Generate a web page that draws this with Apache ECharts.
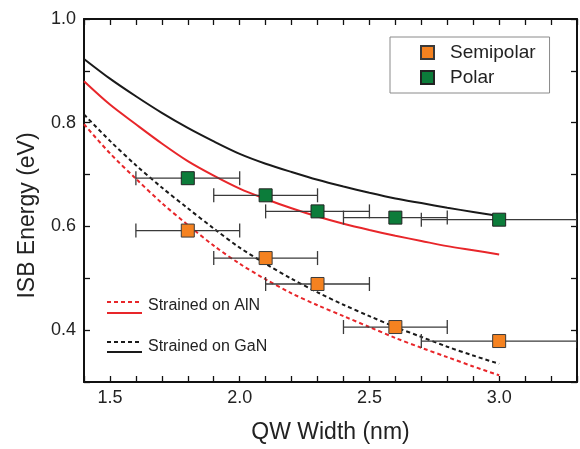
<!DOCTYPE html>
<html><head><meta charset="utf-8">
<script src="https://cdn.jsdelivr.net/npm/echarts@6/dist/echarts.min.js"></script>
<style>html,body{margin:0;padding:0;background:#fff}#c{width:580px;height:449px}</style>
</head><body><div id="c"></div>
<script>
// Measured data
const widths = [1.8, 2.1, 2.3, 2.6, 3.0];
const semipolar = [0.592, 0.539, 0.489, 0.406, 0.379];
const polar = [0.693, 0.660, 0.629, 0.617, 0.613];
const errLow = [1.6, 1.9, 2.1, 2.4, 2.7];
const errHigh = [2.0, 2.3, 2.5, 2.8, 3.3];

// Calculated curves
const curveX = [1.4, 1.5, 1.6, 1.7, 1.8, 1.9, 2.0, 2.1, 2.2, 2.3, 2.4, 2.5, 2.6, 2.7, 2.8, 2.9, 3.0];
const ganSolid = [0.923, 0.885, 0.851, 0.819, 0.790, 0.764, 0.740, 0.721, 0.705, 0.690, 0.677, 0.665, 0.654, 0.645, 0.636, 0.628, 0.620];
const alnSolid = [0.880, 0.835, 0.797, 0.760, 0.726, 0.698, 0.673, 0.653, 0.635, 0.619, 0.605, 0.593, 0.582, 0.572, 0.562, 0.554, 0.546];
const ganDashed = [0.816, 0.765, 0.718, 0.675, 0.635, 0.596, 0.559, 0.528, 0.499, 0.473, 0.449, 0.427, 0.406, 0.387, 0.368, 0.351, 0.335];
const alnDashed = [0.797, 0.741, 0.692, 0.645, 0.603, 0.563, 0.528, 0.498, 0.471, 0.448, 0.427, 0.406, 0.385, 0.366, 0.348, 0.330, 0.313];

const xTickLabels = ['1.5', '2.0', '2.5', '3.0'];
const yTickLabels = ['0.4', '0.6', '0.8', '1.0'];

const FONT = '"Liberation Sans", Arial, sans-serif';
const BLACK = '#1a1a1a', RED = '#e8262a', ORANGE = '#f58220', GREEN = '#0c7c3a';

const pairs = (xs, ys) => xs.map((x, i) => [x, ys[i]]);

function errSeries(vals) {
  return {
    type: 'custom', silent: true, z: 3,
    data: widths.map((w, i) => [errLow[i], errHigh[i], vals[i]]),
    renderItem: function (params, api) {
      const a = api.coord([api.value(0), api.value(2)]);
      const b = api.coord([api.value(1), api.value(2)]);
      const h = 7;
      const st = { stroke: '#3a3a3a', lineWidth: 1.3 };
      return { type: 'group', children: [
        { type: 'line', shape: { x1: a[0], y1: a[1], x2: b[0], y2: b[1] }, style: st },
        { type: 'line', shape: { x1: a[0], y1: a[1] - h, x2: a[0], y2: a[1] + h }, style: st },
        { type: 'line', shape: { x1: b[0], y1: b[1] - h, x2: b[0], y2: b[1] + h }, style: st }
      ]};
    },
    clip: true
  };
}

function lineSeries(name, ys, color, dashed) {
  return {
    name: name, type: 'line', data: pairs(curveX, ys), smooth: 0.3,
    showSymbol: false, symbol: 'none',
    lineStyle: { color: color, width: 2, type: dashed ? [4, 3] : 'solid' }, z: 2, silent: true
  };
}

const axisCommon = {
  axisLine: { show: true, onZero: false, lineStyle: { color: '#111', width: 2 } },
  axisTick: { show: true, inside: true, length: 6, lineStyle: { color: '#111', width: 1.3 } },
  splitLine: { show: false }
};

const chart = echarts.init(document.getElementById('c'), null, { renderer: 'canvas' });
chart.setOption({
  animation: false,
  backgroundColor: '#fff',
  textStyle: { fontFamily: FONT },
  grid: { left: 84, right: 2, top: 19, bottom: 63, containLabel: false },
  xAxis: [
    Object.assign({}, axisCommon, {
      type: 'value', min: 1.4, max: 3.3, interval: 0.1, position: 'bottom',
      name: 'QW Width (nm)', nameLocation: 'middle', nameGap: 39,
      nameTextStyle: { fontSize: 23, color: '#222', fontFamily: FONT },
      axisLabel: { show: true, margin: 7, fontSize: 18, color: '#222', fontFamily: FONT,
        formatter: v => { const s = v.toFixed(1); return xTickLabels.includes(s) ? s : ''; } }
    }),
    Object.assign({}, axisCommon, {
      type: 'value', min: 1.4, max: 3.3, interval: 0.1, position: 'top', axisLabel: { show: false }
    })
  ],
  yAxis: [
    Object.assign({}, axisCommon, {
      type: 'value', min: 0.3, max: 1.0, interval: 0.1, position: 'left',
      name: 'ISB Energy (eV)', nameLocation: 'middle', nameGap: 45,
      nameTextStyle: { fontSize: 23, color: '#222', fontFamily: FONT, padding: [0, 30, 0, 0] },
      axisLabel: { show: true, margin: 8, fontSize: 18, color: '#222', fontFamily: FONT,
        formatter: v => { const s = v.toFixed(1); return yTickLabels.includes(s) ? s : ''; } }
    }),
    Object.assign({}, axisCommon, {
      type: 'value', min: 0.3, max: 1.0, interval: 0.1, position: 'right', axisLabel: { show: false }
    })
  ],
  legend: {
    data: ['Semipolar', 'Polar'], orient: 'vertical', left: 390, top: 37,
    padding: [6, 14, 6, 30], itemGap: 6, itemWidth: 13, itemHeight: 13,
    borderColor: '#8a8a8a', borderWidth: 1, backgroundColor: '#fff',
    textStyle: { fontSize: 19, color: '#222', fontFamily: FONT, padding: [0, 0, 0, 11] },
    selectedMode: false
  },
  graphic: [
    { type: 'line', shape: { x1: 107, y1: 302, x2: 142, y2: 302 }, style: { stroke: RED, lineWidth: 1.8, lineDash: [4, 3] } },
    { type: 'line', shape: { x1: 107, y1: 313, x2: 142, y2: 313 }, style: { stroke: RED, lineWidth: 1.8 } },
    { type: 'text', left: 148, top: 298, style: { text: 'Strained on AlN', fontSize: 16, fill: '#222', fontFamily: FONT } },
    { type: 'line', shape: { x1: 107, y1: 342, x2: 142, y2: 342 }, style: { stroke: BLACK, lineWidth: 1.8, lineDash: [4, 3] } },
    { type: 'line', shape: { x1: 107, y1: 352, x2: 142, y2: 352 }, style: { stroke: BLACK, lineWidth: 1.8 } },
    { type: 'text', left: 148, top: 339, style: { text: 'Strained on GaN', fontSize: 16, fill: '#222', fontFamily: FONT } }
  ],
  series: [
    lineSeries('AlN dashed', alnDashed, RED, true),
    lineSeries('AlN solid', alnSolid, RED, false),
    lineSeries('GaN dashed', ganDashed, BLACK, true),
    lineSeries('GaN solid', ganSolid, BLACK, false),
    errSeries(semipolar),
    errSeries(polar),
    { name: 'Semipolar', type: 'scatter', symbol: 'rect', symbolSize: 13, z: 5,
      data: pairs(widths, semipolar),
      itemStyle: { color: ORANGE, borderColor: '#3a3a3a', borderWidth: 1, opacity: 1 } },
    { name: 'Polar', type: 'scatter', symbol: 'rect', symbolSize: 13, z: 5,
      data: pairs(widths, polar),
      itemStyle: { color: GREEN, borderColor: '#222', borderWidth: 1, opacity: 1 } }
  ]
});
</script></body></html>
